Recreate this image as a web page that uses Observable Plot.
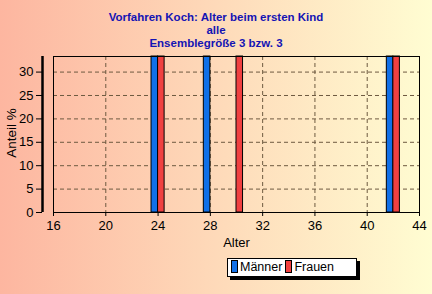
<!DOCTYPE html>
<html><head><meta charset="utf-8">
<script src="https://cdn.jsdelivr.net/npm/d3@7"></script>
<script src="https://cdn.jsdelivr.net/npm/@observablehq/plot@0.6"></script>
<style>
body{margin:0;}
#wrap{position:relative;width:432px;height:294px;background:linear-gradient(to right,#fdb6a0,#fffdd2);font-family:"Liberation Sans",Arial,sans-serif;overflow:hidden}
#wrap svg{position:absolute;left:0;top:0}
.t{position:absolute;left:0;width:432px;text-align:center;color:#1414b4;font-weight:bold;font-size:11.5px;line-height:13px}
#ylab{position:absolute;left:11px;top:133px;transform:translate(-50%,-50%) rotate(-90deg);font-size:13.5px;white-space:nowrap}
#legend{position:absolute;left:227px;top:258px;width:128px;height:17px;background:#fff;border:1px solid #000;box-shadow:3px 3px 0 #000;font-size:12.5px;line-height:17px;white-space:nowrap}
.sw{display:inline-block;width:5px;height:11px;border:1px solid #000;vertical-align:-2px;margin:0 2px 0 3px}
</style></head>
<body>
<div id="wrap">
<div class="t" style="top:11px">Vorfahren Koch: Alter beim ersten Kind</div>
<div class="t" style="top:24px">alle</div>
<div class="t" style="top:37px">Ensemblegröße 3 bzw. 3</div>
<div id="ylab">Anteil %</div>
<div id="legend"></div>
</div>
<script>
const ages = [24, 28, 30, 42];
const maenner = [33.33, 33.33, 0, 33.33];
const frauen = [33.33, 0, 33.33, 33.33];
const seriesNames = ["Männer", "Frauen"];
const seriesColors = ["#1070e8", "#f04040"];
const xTicks = [16, 20, 24, 28, 32, 36, 40, 44];
const yTicks = [0, 5, 10, 15, 20, 25, 30];
const yMax = 33.33;

const men = ages.map((a, i) => ({age: a, value: maenner[i]})).filter(d => d.value > 0);
const women = ages.map((a, i) => ({age: a, value: frauen[i]})).filter(d => d.value > 0);

const grid = {stroke: "#6e5a40", strokeOpacity: 1, strokeDasharray: "4,3"};
const chart = Plot.plot({
  width: 432, height: 294,
  marginLeft: 53, marginRight: 13, marginTop: 56, marginBottom: 82,
  style: {background: "transparent", fontFamily: "Liberation Sans, Arial, sans-serif", fontSize: "13px", color: "#000", overflow: "visible"},
  x: {domain: [16, 44]},
  y: {domain: [0, yMax]},
  marks: [
    Plot.gridX(xTicks.slice(1, -1), grid),
    Plot.gridY(yTicks.slice(1), grid),
    Plot.rectY(men, {x1: d => d.age - 0.5, x2: d => d.age, y: "value", fill: seriesColors[0], stroke: "#000", strokeWidth: 1}),
    Plot.rectY(women, {x1: d => d.age, x2: d => d.age + 0.5, y: "value", fill: seriesColors[1], stroke: "#000", strokeWidth: 1}),
    Plot.frame({stroke: "#000"}),
    Plot.axisX(xTicks, {tickSize: 4, tickPadding: 4, label: "Alter", labelAnchor: "center", labelArrow: "none", labelOffset: 34}),
    Plot.axisY(yTicks, {tickSize: 6, tickPadding: 3, dx: -11, label: null}),
    Plot.ruleX([16], {dx: -11, y1: 0, y2: yMax, stroke: "#000", strokeWidth: 2.5})
  ]
});
document.getElementById("wrap").prepend(chart);

const lg = document.getElementById("legend");
seriesNames.forEach((n, i) => {
  const s = document.createElement("span");
  s.className = "sw"; s.style.background = seriesColors[i];
  lg.appendChild(s);
  lg.appendChild(document.createTextNode(n));
});
</script>
</body></html>
